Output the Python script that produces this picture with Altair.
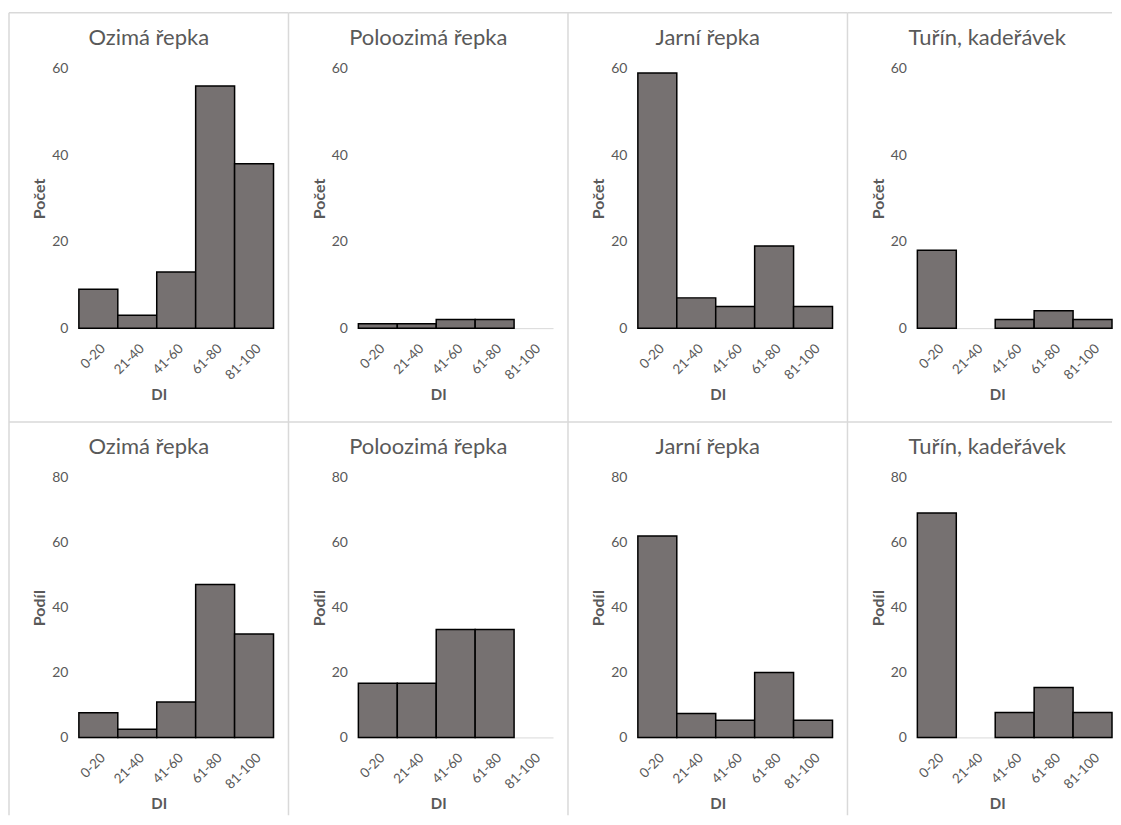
import altair as alt
import pandas as pd

# ---- data -------------------------------------------------------------
categories = ["0-20", "21-40", "41-60", "61-80", "81-100"]
crops = ["Ozimá řepka", "Poloozimá řepka", "Jarní řepka", "Tuřín, kadeřávek"]

pocet_ozima = [9, 3, 13, 56, 38]
pocet_poloozima = [1, 1, 2, 2, 0]
pocet_jarni = [59, 7, 5, 19, 5]
pocet_turin = [18, 0, 2, 4, 2]

podil_ozima = [7.6, 2.5, 10.9, 47.1, 31.9]
podil_poloozima = [16.7, 16.7, 33.3, 33.3, 0]
podil_jarni = [62.1, 7.4, 5.3, 20.0, 5.3]
podil_turin = [69.2, 0, 7.7, 15.4, 7.7]

y_ticks_pocet = [0, 20, 40, 60]
y_ticks_podil = [0, 20, 40, 60, 80]

# ---- style ------------------------------------------------------------
FONT = "Lato"
GRAY = "#595959"
LINE = "#d9d9d9"
BAR = "#767171"
W, H = 195, 260          # plot area
CELL_W, CELL_H = 280, 410
LEFT, TOP = 70, 56       # plot offset inside its cell


def panel(title, values, ytitle, yticks, last_col=False, last_row=False):
    df = pd.DataFrame({"DI": categories, "v": values})
    bars = alt.Chart(df).mark_bar(fill=BAR, stroke="black", strokeWidth=1.5).encode(
        x=alt.X(
            "DI:N", sort=categories,
            scale=alt.Scale(paddingInner=0, paddingOuter=0),
            axis=alt.Axis(
                title="DI", labelAngle=-45, ticks=False, tickSize=0, labelPadding=13,
                labelFont=FONT, labelFontSize=13.5, labelColor=GRAY,
                domainColor=LINE, domainWidth=1,
                titleFont=FONT, titleFontSize=15, titleFontWeight="bold", titleColor=GRAY,
                titleX=80, titleY=71, titleBaseline="alphabetic", titleAlign="center",
            ),
        ),
        y=alt.Y(
            "v:Q",
            scale=alt.Scale(domain=[0, yticks[-1]], nice=False),
            axis=alt.Axis(
                title=ytitle, values=yticks, grid=False, domain=False, ticks=False, tickSize=0,
                labelPadding=11, labelFont=FONT, labelFontSize=14, labelColor=GRAY,
                titleFont=FONT, titleFontSize=16, titleFontWeight="bold", titleColor=GRAY,
                titleX=-39, titleY=H / 2, titleBaseline="middle", titleAlign="center",
            ),
        ),
        strokeOpacity=alt.condition(alt.datum.v > 0, alt.value(1), alt.value(0)),
    )

    one = pd.DataFrame({"t": [title]})
    head = alt.Chart(one).mark_text(
        font=FONT, fontSize=22, color=GRAY, align="center", baseline="alphabetic"
    ).encode(text="t:N", x=alt.value(CELL_W / 2 - LEFT), y=alt.value(-24))

    right_end = W if last_col else CELL_W - LEFT
    bottom_end = 338 if last_row else CELL_H - TOP
    top_rule = alt.Chart(one).mark_rule(color=LINE, strokeWidth=1.5).encode(
        x=alt.value(-LEFT), x2=alt.value(right_end), y=alt.value(-TOP)
    )
    left_rule = alt.Chart(one).mark_rule(color=LINE, strokeWidth=1.5).encode(
        x=alt.value(-LEFT), y=alt.value(-TOP), y2=alt.value(bottom_end)
    )
    return alt.layer(top_rule, left_rule, bars, head).properties(width=W, height=H)


top_vals = [pocet_ozima, pocet_poloozima, pocet_jarni, pocet_turin]
bot_vals = [podil_ozima, podil_poloozima, podil_jarni, podil_turin]

panels = []
for i, (c, v) in enumerate(zip(crops, top_vals)):
    panels.append(panel(c, v, "Počet", y_ticks_pocet, last_col=(i == 3)))
for i, (c, v) in enumerate(zip(crops, bot_vals)):
    panels.append(panel(c, v, "Podíl", y_ticks_podil, last_col=(i == 3), last_row=True))

chart = alt.concat(
    *panels, columns=4,
    spacing={"row": CELL_H - H, "column": CELL_W - W},
    bounds="flush",
).properties(
    padding={"left": 0, "top": 3, "right": 0, "bottom": 0}
).configure_view(stroke=None)

chart.save("out.html", embed_options={"renderer": "svg", "actions": False})
